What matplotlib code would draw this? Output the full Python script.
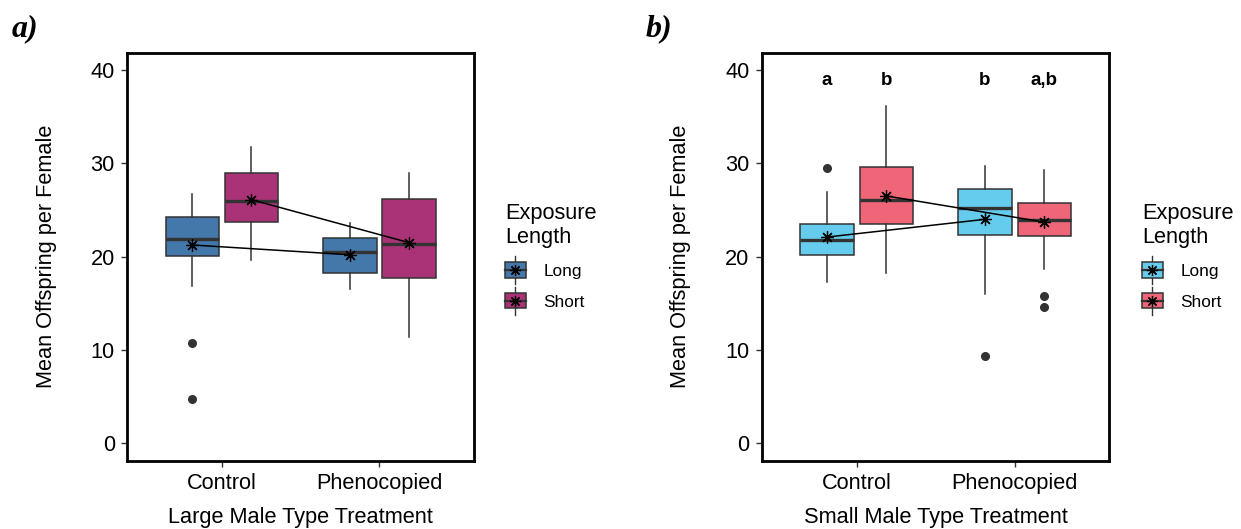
import matplotlib
matplotlib.use('Agg')
import matplotlib.pyplot as plt
from matplotlib.patches import Patch, Rectangle
from matplotlib.lines import Line2D
from matplotlib.legend_handler import HandlerBase

plt.rcParams['font.family'] = ['Liberation Sans', 'DejaVu Sans']

# data
treatments = ["Control", "Phenocopied"]
exposures = ["Long", "Short"]

# panel a: large males, per treatment [Long, Short]
a_whislo = [[16.85, 19.6], [16.5, 11.4]]
a_q1 = [[20.1, 23.7], [18.2, 17.7]]
a_med = [[21.9, 26.0], [20.5, 21.4]]
a_q3 = [[24.3, 29.0], [22.0, 26.2]]
a_whishi = [[26.7, 31.7], [23.6, 29.0]]
a_fliers = [[[10.7, 4.7], []], [[], []]]
a_mean = [[21.25, 26.1], [20.2, 21.5]]

# panel b: small males
b_whislo = [[17.25, 18.3], [16.0, 18.7]]
b_q1 = [[20.2, 23.5], [22.3, 22.2]]
b_med = [[21.8, 26.1], [25.2, 23.9]]
b_q3 = [[23.5, 29.6], [27.2, 25.8]]
b_whishi = [[26.9, 36.1], [29.75, 29.3]]
b_fliers = [[[29.5], []], [[9.4], [15.8, 14.6]]]
b_mean = [[22.1, 26.5], [24.0, 23.7]]
b_letters = [["a", "b"], ["b", "a,b"]]
letter_y = 38.9

a_colors = ["#4477AA", "#AA3377"]
b_colors = ["#66CCEE", "#EE6677"]

EDGE = "#333333"
ASTER = (8, 2, 0)
DODGE = 0.1875
BOXW = 0.337


class BoxKeyHandler(HandlerBase):
    def create_artists(self, legend, orig_handle, xdescent, ydescent,
                       width, height, fontsize, trans):
        cx = -xdescent + width / 2
        cy = -ydescent + height / 2
        whisk = Line2D([cx, cx], [-ydescent - height * 0.4, -ydescent + height * 1.4],
                       color=EDGE, lw=1.0, transform=trans)
        box = Rectangle((-xdescent, -ydescent), width, height,
                        facecolor=orig_handle.get_facecolor(), edgecolor=EDGE,
                        lw=1.1, transform=trans)
        med = Line2D([-xdescent, -xdescent + width], [cy, cy], color=EDGE,
                     lw=1.6, transform=trans)
        star = Line2D([cx], [cy], marker=ASTER, color="black", ms=8, mew=0.9,
                      linestyle="none", transform=trans)
        return [whisk, box, med, star]


def draw_panel(ax, whislo, q1, med, q3, whishi, fliers, means, colors, xlabel):
    for j, exp in enumerate(exposures):
        stats = []
        pos = []
        for i in range(len(treatments)):
            stats.append(dict(whislo=whislo[i][j], q1=q1[i][j], med=med[i][j],
                              q3=q3[i][j], whishi=whishi[i][j], fliers=fliers[i][j]))
            pos.append(i + 1 + (j - 0.5) * 2 * DODGE)
        ax.bxp(stats, positions=pos, widths=BOXW, showcaps=False, patch_artist=True,
               boxprops=dict(facecolor=colors[j], edgecolor=EDGE, lw=1.1),
               whiskerprops=dict(color=EDGE, lw=1.1),
               medianprops=dict(color=EDGE, lw=2.4),
               flierprops=dict(marker="o", markerfacecolor=EDGE, markeredgecolor=EDGE,
                               markersize=5.5),
               manage_ticks=False, zorder=2)
        ax.plot(pos, [means[i][j] for i in range(len(treatments))], color="black",
                lw=1.1, marker=ASTER, ms=9, mew=0.9, zorder=4)
    ax.set_xlim(0.4, 2.6)
    ax.set_ylim(-1.86, 41.85)
    ax.set_xticks([1, 2])
    ax.set_xticklabels(treatments)
    ax.set_yticks([0, 10, 20, 30, 40])
    ax.tick_params(labelsize=15.7, length=4, width=1, color=EDGE, pad=5)
    for s in ax.spines.values():
        s.set_linewidth(2.0)
        s.set_color("black")
    ax.set_ylabel("Mean Offspring per Female", fontsize=15.7)
    ax.yaxis.set_label_coords(-0.203, 0.5)
    ax.set_xlabel(xlabel, fontsize=15.7, va="top")
    ax.xaxis.set_label_coords(0.5, -0.113)


fig = plt.figure(figsize=(12.41, 5.29), dpi=100)
ax_a = fig.add_axes([0.1026, 0.1291, 0.2794, 0.7713])
ax_b = fig.add_axes([0.6140, 0.1291, 0.2799, 0.7713])

draw_panel(ax_a, a_whislo, a_q1, a_med, a_q3, a_whishi, a_fliers, a_mean,
           a_colors, "Large Male Type Treatment")
draw_panel(ax_b, b_whislo, b_q1, b_med, b_q3, b_whishi, b_fliers, b_mean,
           b_colors, "Small Male Type Treatment")

for i in range(len(treatments)):
    for j in range(len(exposures)):
        ax_b.text(i + 1 + (j - 0.5) * 2 * DODGE, letter_y, b_letters[i][j],
                  ha="center", va="center", fontsize=13.5, fontweight="bold")

for ax, colors, lx in [(ax_a, a_colors, 0.4069), (ax_b, b_colors, 0.9202)]:
    handles = [Patch(facecolor=c) for c in colors]
    leg = ax.legend(handles, exposures, title="Exposure\nLength",
                    loc="upper left", bbox_to_anchor=(lx, 0.6165),
                    bbox_transform=fig.transFigure, frameon=False,
                    fontsize=12.4, title_fontsize=15.7, alignment="left",
                    handler_map={Patch: BoxKeyHandler()},
                    handlelength=1.22, handleheight=1.0, handletextpad=1.0,
                    labelspacing=0.82, borderpad=0, borderaxespad=0)

fig.text(0.0097, 0.945, "a)", fontsize=23, fontweight="bold", fontstyle="italic",
         family="Liberation Serif", va="center")
fig.text(0.5206, 0.945, "b)", fontsize=23, fontweight="bold", fontstyle="italic",
         family="Liberation Serif", va="center")

fig.savefig("out.png", dpi=100)
